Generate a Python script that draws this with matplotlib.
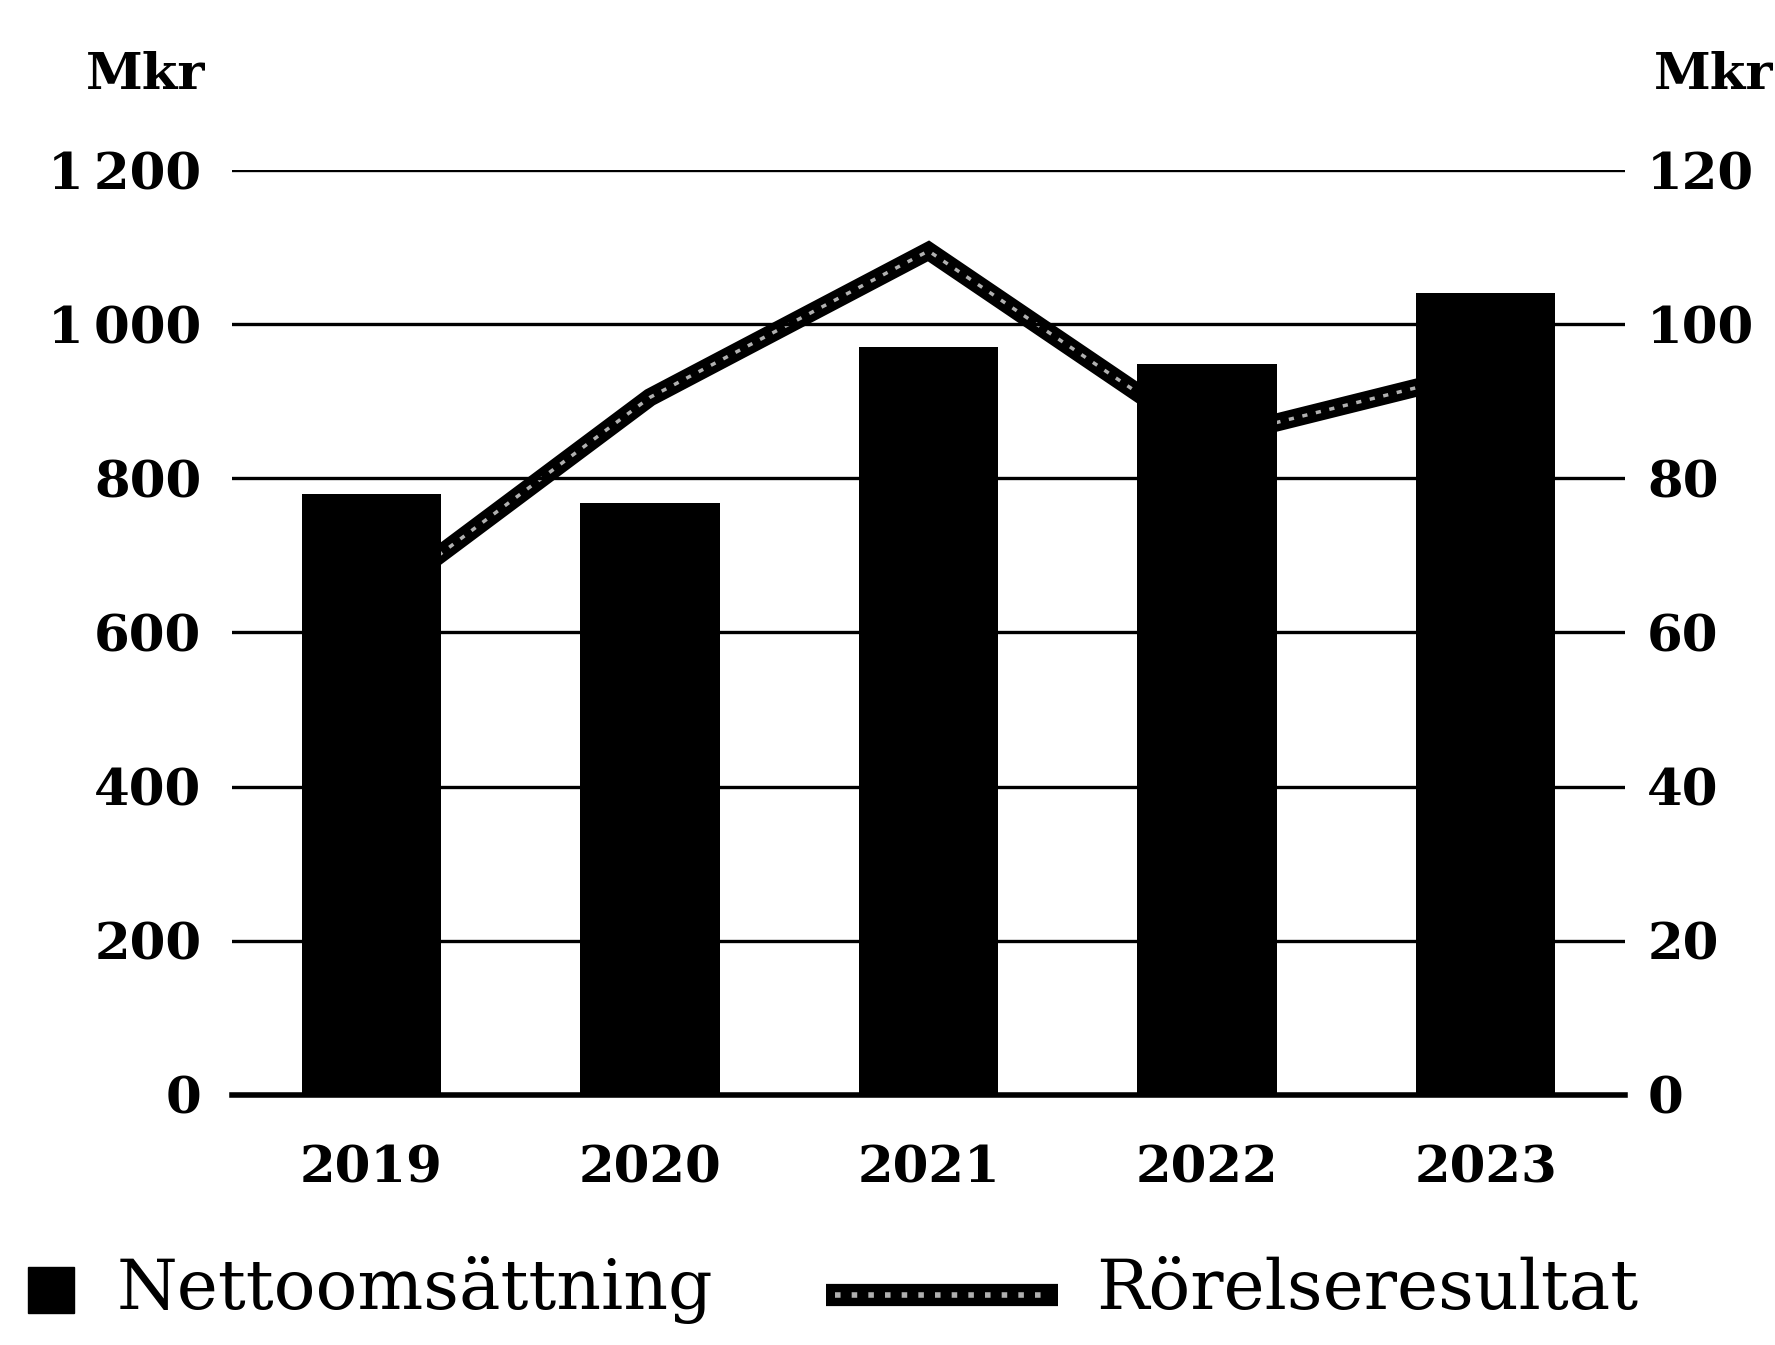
import matplotlib
matplotlib.use("Agg")
import matplotlib.pyplot as plt
from matplotlib.lines import Line2D
from matplotlib.patches import Rectangle

# data
years = ["2019", "2020", "2021", "2022", "2023"]
nettoomsattning = [780, 768, 970, 948, 1040]   # Mkr, left axis
rorelseresultat = [63.5, 90.5, 109.5, 85.0, 94.0]  # Mkr, right axis
left_ticks = [0, 200, 400, 600, 800, 1000, 1200]
left_labels = ["0", "200", "400", "600", "800", "1\u2009000", "1\u2009200"]
right_ticks = [0, 20, 40, 60, 80, 100, 120]

plt.rcParams["font.family"] = ["DejaVu Serif"]

fig = plt.figure(figsize=(17.75, 13.45), dpi=100)
ax = fig.add_axes([0.1307, 0.1859, 0.7848, 0.6877])
ax2 = ax.twinx()
# bars in front of the line, like the reference
ax.set_zorder(ax2.get_zorder() + 1)
ax.patch.set_visible(False)

x = list(range(len(years)))
ax.bar(x, nettoomsattning, width=0.5, color="black", zorder=2)
ax.set_xlim(-0.5, len(years) - 0.5)
ax.set_ylim(0, 1200)
ax.set_yticks(left_ticks)
ax.set_yticklabels(left_labels, fontweight="bold")
ax.set_xticks(x)
ax.set_xticklabels(years, fontweight="bold")
for t in left_ticks[1:]:
    ax.axhline(t, color="black", lw=2.4, zorder=1)
for s in ["top", "right", "left"]:
    ax.spines[s].set_visible(False)
ax.spines["bottom"].set_linewidth(4)
ax.spines["bottom"].set_zorder(3)
ax.tick_params(axis="y", length=0, pad=22, labelsize=37)
ax.tick_params(axis="x", length=0, pad=36, labelsize=37)

ax2.set_ylim(0, 120)
ax2.set_yticks(right_ticks)
ax2.set_yticklabels([str(t) for t in right_ticks], fontweight="bold")
ax2.tick_params(axis="y", length=0, pad=16, labelsize=37)
for s in ax2.spines.values():
    s.set_visible(False)
# double line: thick black with a thin speckled light core
ax2.plot(x, rorelseresultat, color="black", lw=13, solid_joinstyle="miter")
ax2.plot(x, rorelseresultat, color="#b0b0b0", lw=2.5, linestyle=(0, (1.5, 2.5)))

fig.text(0.082, 0.944, "Mkr", fontsize=37, fontweight="bold", ha="center", va="center")
fig.text(0.999, 0.944, "Mkr", fontsize=37, fontweight="bold", ha="right", va="center")

# legend drawn by hand: small square, long thick line
fig.add_artist(Rectangle((0.0158, 0.0238), 0.0259, 0.0342, color="black",
                         transform=fig.transFigure))
fig.text(0.0659, 0.0409, "Nettoomsättning", fontsize=50, ha="left", va="center")
fig.add_artist(Line2D([0.4654, 0.5961], [0.037, 0.037], color="black", lw=16,
                      solid_capstyle="butt", transform=fig.transFigure))
fig.add_artist(Line2D([0.4704, 0.5911], [0.037, 0.037], color="#b0b0b0", lw=4,
                      linestyle=(0, (1, 2)), transform=fig.transFigure))
fig.text(0.6175, 0.0409, "Rörelseresultat", fontsize=50, ha="left", va="center")

fig.savefig("out.png", dpi=100)
